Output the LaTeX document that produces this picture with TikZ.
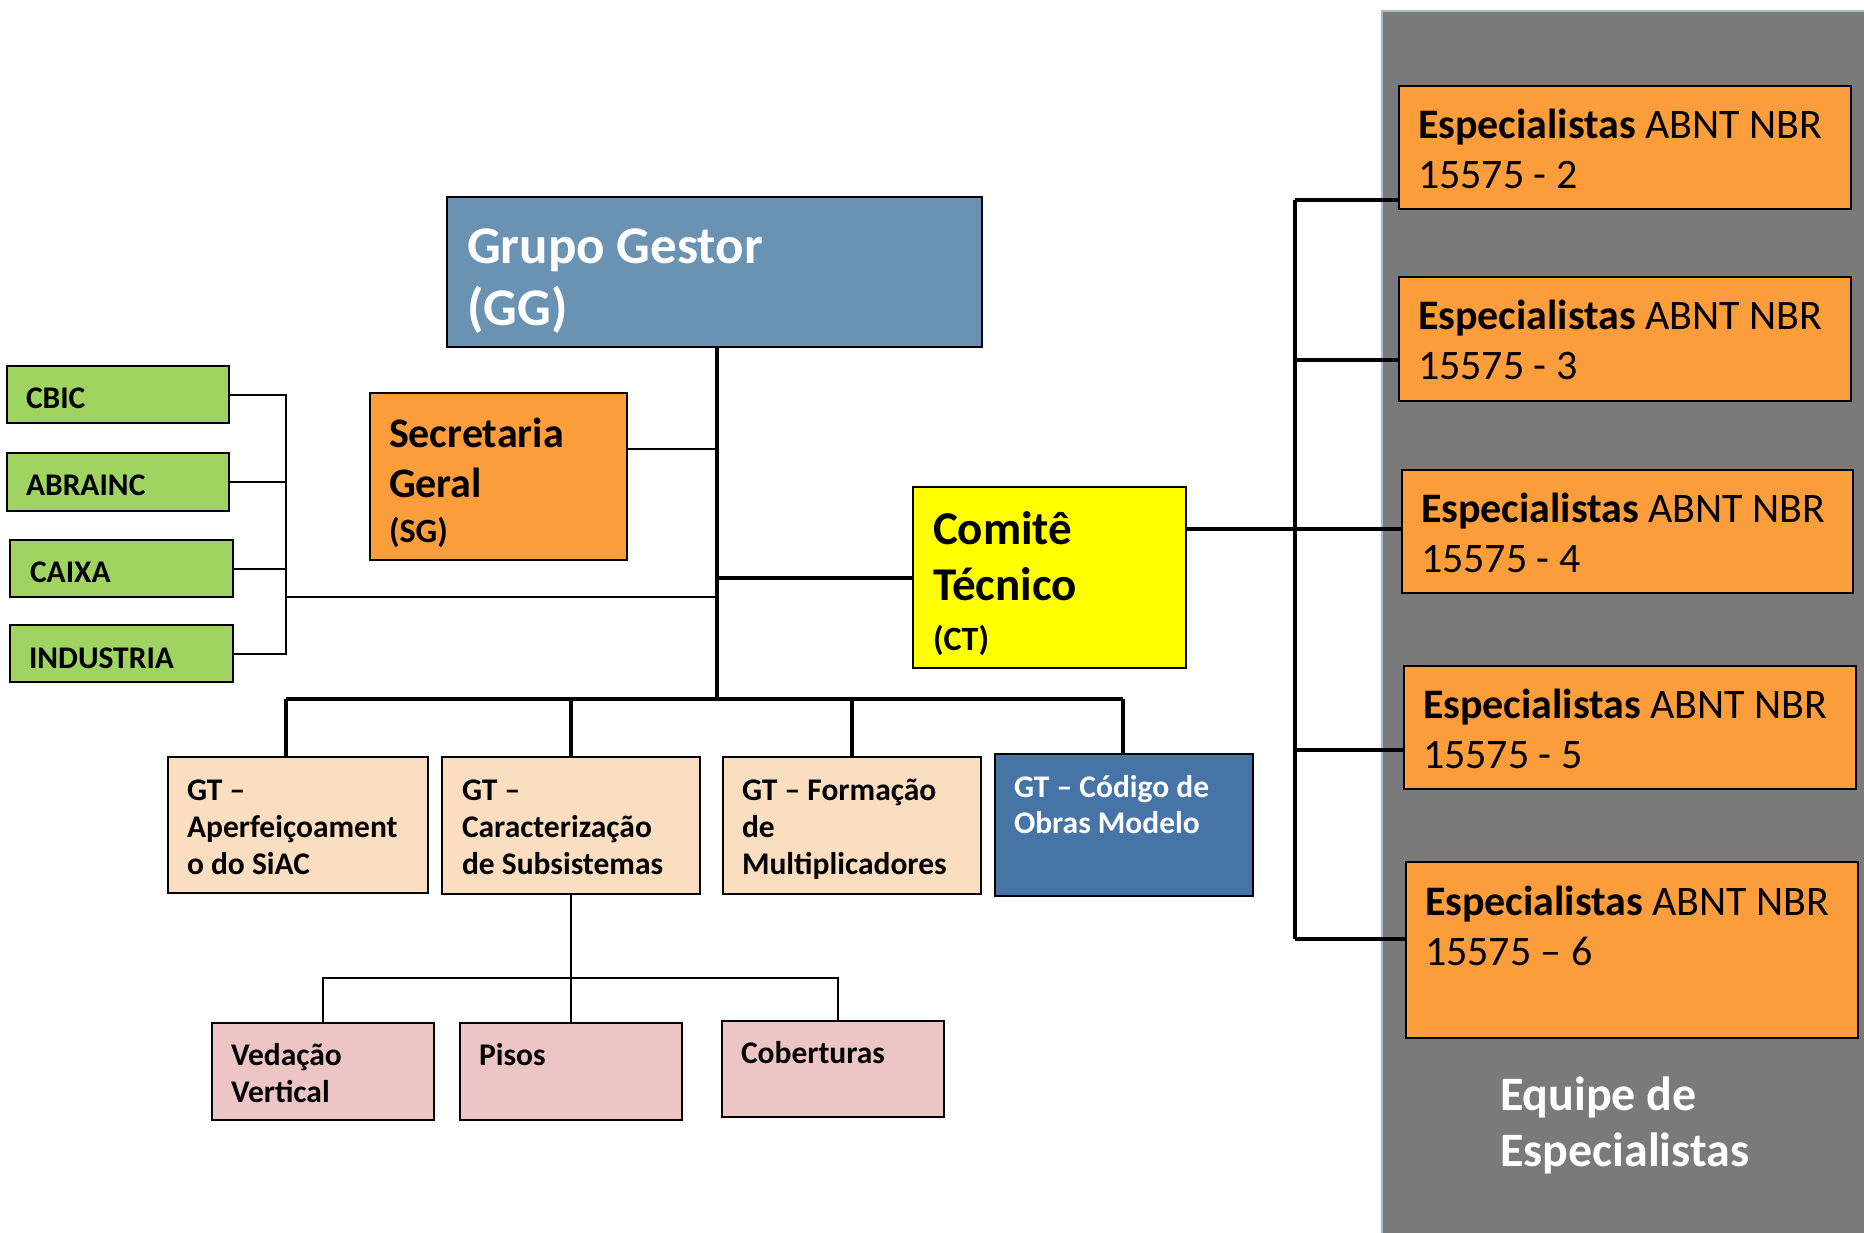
\documentclass[tikz,border=0pt]{standalone}
\usepackage{fontspec}
\setmainfont{Carlito}
\definecolor{ggblue}{RGB}{106,146,178}
\definecolor{orng}{RGB}{252,157,60}
\definecolor{yel}{RGB}{255,255,0}
\definecolor{grn}{RGB}{160,212,98}
\definecolor{peach}{RGB}{251,221,192}
\definecolor{gtblue}{RGB}{70,116,166}
\definecolor{pink}{RGB}{236,197,196}
\definecolor{panelgray}{RGB}{122,122,122}
\definecolor{paneledge}{RGB}{170,186,200}
\begin{document}
\begin{tikzpicture}[x=1pt,y=-1pt,
  box/.style={draw=black,line width=1.8pt,inner sep=0pt,outer sep=0pt,anchor=north west},
  txt/.style={anchor=base west,inner sep=0pt,outer sep=0pt},
  thk/.style={line width=3.6pt},
  thn/.style={line width=2pt},
  fgg/.style={font=\fontsize{53}{63}\selectfont\bfseries,text=white},
  fbig/.style={font=\fontsize{42}{50}\selectfont\bfseries},
  fct/.style={font=\fontsize{47}{56}\selectfont\bfseries},
  fsm/.style={font=\fontsize{34}{40}\selectfont\bfseries},
  fgt/.style={font=\fontsize{31.5}{37}\selectfont\bfseries},
  fesp/.style={font=\fontsize{42}{50}\selectfont},
  feq/.style={font=\fontsize{48}{56}\selectfont\bfseries,text=white}]
\useasboundingbox (0,0) rectangle (1864,1232);
\fill[white] (0,0) rectangle (1864,1232);
% panel
\node[anchor=north west,draw=paneledge,line width=1.5pt,fill=panelgray,inner sep=0pt,minimum width=490pt,minimum height=1230pt] (panel) at (1381,10) {};
% boxes
\node[box,fill=ggblue,minimum width=535pt,minimum height=150pt] (gg) at (447,197) {};
\node[box,fill=orng,minimum width=257pt,minimum height=167pt] (sg) at (370,393) {};
\node[box,fill=yel,minimum width=273pt,minimum height=181pt] (ct) at (913,487) {};
\node[box,fill=grn,minimum width=222pt,minimum height=57pt] (cbic) at (7,366) {};
\node[box,fill=grn,minimum width=222pt,minimum height=58pt] (abr) at (7,453) {};
\node[box,fill=grn,minimum width=223pt,minimum height=57pt] (caixa) at (10,540) {};
\node[box,fill=grn,minimum width=223pt,minimum height=57pt] (ind) at (10,625) {};
\node[box,fill=peach,minimum width=260pt,minimum height=136pt] (gt1) at (168,757) {};
\node[box,fill=peach,minimum width=258pt,minimum height=137pt] (gt2) at (442,757) {};
\node[box,fill=peach,minimum width=258pt,minimum height=137pt] (gt3) at (723,757) {};
\node[box,fill=gtblue,minimum width=258pt,minimum height=142pt] (gt4) at (995,754) {};
\node[box,fill=pink,minimum width=222pt,minimum height=97pt] (ved) at (212,1023) {};
\node[box,fill=pink,minimum width=222pt,minimum height=97pt] (pisos) at (460,1023) {};
\node[box,fill=pink,minimum width=222pt,minimum height=96pt] (cob) at (722,1021) {};
\node[box,fill=orng,minimum width=452pt,minimum height=123pt] (esp1) at (1399,86) {};
\node[box,fill=orng,minimum width=452pt,minimum height=124pt] (esp2) at (1399,277) {};
\node[box,fill=orng,minimum width=451pt,minimum height=123pt] (esp3) at (1402,470) {};
\node[box,fill=orng,minimum width=452pt,minimum height=123pt] (esp4) at (1404,666) {};
\node[box,fill=orng,minimum width=452pt,minimum height=176pt] (esp5) at (1406,862) {};
% texts
\node[txt,fgg] (gga) at (467,263) {Grupo Gestor};
\node[txt,fgg] (ggb) at (467,325) {(GG)};
\node[txt,fbig] (sga) at (389,447) {Secretaria};
\node[txt,fbig] (sgb) at (389,497) {Geral};
\node[txt,fsm] (sgc) at (389,542) {(SG)};
\node[txt,fct] (cta) at (933,544) {Comitê};
\node[txt,fct] (ctb) at (933,600) {Técnico};
\node[txt,fsm] (ctc) at (933,650) {(CT)};
\node[txt,fgt] (tcbic) at (26,408) {CBIC};
\node[txt,fgt] (tabr) at (26,495) {ABRAINC};
\node[txt,fgt] (tcaixa) at (30,582) {CAIXA};
\node[txt,fgt] (tind) at (29,668) {INDUSTRIA};
\node[txt,fgt] (g1a) at (187,800) {GT –};
\node[txt,fgt] (g1b) at (187,837) {Aperfeiçoament};
\node[txt,fgt] (g1c) at (187,874) {o do SiAC};
\node[txt,fgt] (g2a) at (462,800) {GT –};
\node[txt,fgt] (g2b) at (462,837) {Caracterização};
\node[txt,fgt] (g2c) at (462,874) {de Subsistemas};
\node[txt,fgt] (g3a) at (742,800) {GT – Formação};
\node[txt,fgt] (g3b) at (742,837) {de};
\node[txt,fgt] (g3c) at (742,874) {Multiplicadores};
\node[txt,fgt,text=white] (g4a) at (1014,797) {GT – Código de};
\node[txt,fgt,text=white] (g4b) at (1014,833) {Obras Modelo};
\node[txt,fgt] (veda) at (231,1065) {Vedação};
\node[txt,fgt] (vedb) at (231,1102) {Vertical};
\node[txt,fgt] (tpisos) at (479,1065) {Pisos};
\node[txt,fgt] (tcob) at (741,1063) {Coberturas};
\node[txt,fesp] (e1a) at (1418,138) {\textbf{Especialistas} ABNT NBR};
\node[txt,fesp] (e1b) at (1418,188) {15575 - 2};
\node[txt,fesp] (e2a) at (1418,329) {\textbf{Especialistas} ABNT NBR};
\node[txt,fesp] (e2b) at (1418,379) {15575 - 3};
\node[txt,fesp] (e3a) at (1421,522) {\textbf{Especialistas} ABNT NBR};
\node[txt,fesp] (e3b) at (1421,572) {15575 - 4};
\node[txt,fesp] (e4a) at (1423,718) {\textbf{Especialistas} ABNT NBR};
\node[txt,fesp] (e4b) at (1423,768) {15575 - 5};
\node[txt,fesp] (e5a) at (1425,915) {\textbf{Especialistas} ABNT NBR};
\node[txt,fesp] (e5b) at (1425,965) {15575 – 6};
\node[txt,feq] (eqa) at (1500,1110) {Equipe de};
\node[txt,feq] (eqb) at (1500,1166) {Especialistas};
% connector coordinates
\coordinate (tb) at (717,699);
\coordinate (sgj) at (717,449);
\coordinate (ctj) at (717,578);
\coordinate (gj) at (717,597);
\coordinate (gx) at (286,395);
\coordinate (bl) at (286,699);
\coordinate (br) at (1123,699);
\coordinate (sj) at (572,978);
\coordinate (sr) at (838,978);
\coordinate (rb1) at (1295,200);
\coordinate (rb2) at (1295,360);
\coordinate (rb3) at (1295,529);
\coordinate (rb4) at (1295,750);
\coordinate (rb5) at (1295,939);
% connectors
\draw[thk] (gg.south -| tb) -- (tb);
\draw[thn] (sg.east |- sgj) -- (sgj);
\draw[thk] (ctj) -- (ctj -| ct.west);
\draw[thn] (cbic.east) -- (cbic.east -| gx) -- (ind.east -| gx) -- (ind.east);
\draw[thn] (abr.east) -- (abr.east -| gx);
\draw[thn] (caixa.east) -- (caixa.east -| gx);
\draw[thn] (gj -| gx) -- (gj);
\draw[thk] (bl) -- (br);
\draw[thk] (bl) -- (bl |- gt1.north);
\draw[thk] (bl -| gt2.north) -- (gt2.north);
\draw[thk] (bl -| gt3.north) -- (gt3.north);
\draw[thk] (br) -- (br |- gt4.north);
\draw[thn] (gt2.south) -- (pisos.north);
\draw[thn] (ved.north) -- (ved.north |- sj) -- (sr) -- (sr |- cob.north);
\draw[thk] (rb1) -- (rb5);
\draw[thk] (rb1) -- (rb1 -| esp1.west);
\draw[thk] (rb2) -- (rb2 -| esp2.west);
\draw[thk] (ct.east |- rb3) -- (rb3 -| esp3.west);
\draw[thk] (rb4) -- (rb4 -| esp4.west);
\draw[thk] (rb5) -- (rb5 -| esp5.west);
\end{tikzpicture}
\end{document}
